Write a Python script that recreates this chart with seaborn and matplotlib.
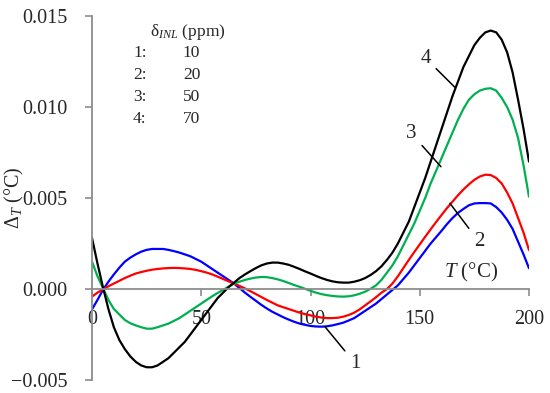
import pandas as pd
import matplotlib
matplotlib.use("Agg")
import matplotlib.pyplot as plt
import seaborn as sns
from matplotlib.ticker import FuncFormatter

# -------------------------
# Data (T in °C, Delta_T in °C)
# -------------------------

temps = [0, 2.5, 5, 7.5, 10, 12.5, 15, 17.5, 20, 22.5, 25, 27.5, 30, 32.5, 35, 37.5,
         40, 42.5, 45, 47.5, 50, 52.5, 55, 57.5, 60, 62.5, 65, 67.5, 70, 72.5, 75, 77.5,
         80, 82.5, 85, 87.5, 90, 92.5, 95, 97.5, 100, 102.5, 105, 107.5, 110, 112.5,
         115, 117.5, 120, 122.5, 125, 127.5, 130, 132.5, 135, 137.5, 140, 142.5, 145,
         147.5, 150, 152.5, 155, 157.5, 160, 162.5, 165, 167.5, 170, 172.5, 175, 177.5,
         180, 182.5, 185, 187.5, 190, 192.5, 195, 197.5, 200]

curve_1 = [-0.00112, -0.0006, -0.00005, 0.0004, 0.0008, 0.00117, 0.0015, 0.00172, 0.0019,
           0.00205, 0.00215, 0.0022, 0.0022, 0.0022, 0.00215, 0.00208, 0.0020, 0.0019,
           0.0018, 0.00165, 0.0015, 0.0013, 0.0011, 0.0009, 0.0007, 0.0005, 0.0003,
           0.00005, -0.0002, -0.00043, -0.00065, -0.00087, -0.00107, -0.00125, -0.0014,
           -0.00155, -0.00168, -0.0018, -0.0019, -0.00197, -0.00203, -0.00206, -0.00207,
           -0.00205, -0.0020, -0.00193, -0.00185, -0.00173, -0.0016, -0.0014, -0.0012,
           -0.001, -0.0008, -0.00055, -0.0003, -0.00005, 0.0002, 0.00055, 0.0009, 0.0013,
           0.0017, 0.0021, 0.0025, 0.00285, 0.0032, 0.00357, 0.0039, 0.00418, 0.0044,
           0.0046, 0.0047, 0.00472, 0.00472, 0.0047, 0.0045, 0.0042, 0.0038, 0.0033,
           0.0026, 0.0019, 0.00114]

curve_2 = [-0.00042, -0.0002, -0.00002, 0.00015, 0.0003, 0.00045, 0.0006, 0.00073, 0.00085,
           0.00093, 0.0010, 0.00106, 0.0011, 0.00113, 0.00115, 0.00116, 0.00115, 0.00113,
           0.0011, 0.00105, 0.00098, 0.0009, 0.0008, 0.00068, 0.00055, 0.00042, 0.0003,
           0.00017, 0.00003, -0.00012, -0.00028, -0.00044, -0.0006, -0.00075, -0.0009,
           -0.001, -0.0011, -0.0012, -0.0013, -0.00138, -0.00145, -0.00152, -0.00157,
           -0.0016, -0.0016, -0.00158, -0.00152, -0.00143, -0.0013, -0.00112, -0.0009,
           -0.00068, -0.00045, -0.0002, 0.0, 0.0003, 0.0007, 0.00115, 0.0016, 0.00203,
           0.00245, 0.00287, 0.00328, 0.00368, 0.00407, 0.00445, 0.0048, 0.00515, 0.00547,
           0.00575, 0.006, 0.00618, 0.00628, 0.00626, 0.0061, 0.0058, 0.0053, 0.0047,
           0.0039, 0.0031, 0.00214]

curve_3 = [0.0015, 0.0007, 0.00005, -0.0006, -0.0011, -0.0014, -0.0017, -0.00188, -0.0020,
           -0.0021, -0.00218, -0.00218, -0.0021, -0.0020, -0.0019, -0.00175, -0.0016,
           -0.0014, -0.0012, -0.001, -0.0008, -0.0006, -0.0004, -0.00022, -0.00005,
           0.00013, 0.0003, 0.0004, 0.0005, 0.00057, 0.00063, 0.00066, 0.00065, 0.0006,
           0.00053, 0.00044, 0.00033, 0.00022, 0.00012, 0.00001, -0.0001, -0.0002,
           -0.00028, -0.00034, -0.00038, -0.00041, -0.00042, -0.0004, -0.00035, -0.00026,
           -0.00015, 0.00001, 0.0002, 0.0005, 0.0009, 0.0013, 0.0018, 0.0024, 0.0030,
           0.0036, 0.0043, 0.0050, 0.0058, 0.0065, 0.0072, 0.0079, 0.0086, 0.0093, 0.0099,
           0.0104, 0.0107, 0.0109, 0.0110, 0.01103, 0.0109, 0.0105, 0.0100, 0.0093, 0.0083,
           0.0068, 0.00507]

curve_4 = [0.0028, 0.0014, 0.0001, -0.0011, -0.0021, -0.0028, -0.0033, -0.0037, -0.0040,
           -0.0042, -0.0043, -0.0043, -0.0042, -0.0040, -0.0038, -0.0035, -0.0032, -0.0029,
           -0.0025, -0.0021, -0.0017, -0.0013, -0.0009, -0.0005, -0.0002, 0.0001, 0.00035,
           0.0006, 0.0008, 0.00098, 0.00115, 0.0013, 0.0014, 0.00145, 0.00145, 0.0014,
           0.00133, 0.00122, 0.0011, 0.00097, 0.00085, 0.00072, 0.0006, 0.0005, 0.00042,
           0.00037, 0.00035, 0.00035, 0.0004, 0.00048, 0.0006, 0.00077, 0.00098, 0.00125,
           0.0016, 0.002, 0.0025, 0.0031, 0.0037, 0.0045, 0.0053, 0.0061, 0.0070, 0.0079,
           0.0088, 0.0097, 0.0106, 0.0114, 0.0122, 0.0128, 0.0134, 0.0138, 0.0141, 0.0142,
           0.0141, 0.0137, 0.0130, 0.0119, 0.0104, 0.0088, 0.0070]

curve_names = ["1", "2", "3", "4"]
curve_colors = ["#0000FF", "#FF0000", "#00B050", "#000000"]

legend_ids = ["1:", "2:", "3:", "4:"]
legend_ppm = [10, 20, 50, 70]

x_ticks = [0, 50, 100, 150, 200]
y_ticks = [-0.005, 0.000, 0.005, 0.010, 0.015]

# -------------------------
# Long-form table for seaborn
# -------------------------

df = pd.DataFrame({"T": temps, "1": curve_1, "2": curve_2, "3": curve_3, "4": curve_4})
df_long = df.melt(id_vars="T", var_name="curve", value_name="delta")

sns.set_theme(style="white")
plt.rcParams["font.family"] = ["Liberation Serif", "DejaVu Serif"]
plt.rcParams["mathtext.fontset"] = "custom"
plt.rcParams["mathtext.rm"] = "Liberation Serif"
plt.rcParams["mathtext.it"] = "Liberation Serif:italic"

fig = plt.figure(figsize=(5.5, 3.93), dpi=100)
ax = fig.add_axes([0.1673, 0.0331, 0.7945, 0.9262])

sns.lineplot(
    data=df_long, x="T", y="delta", hue="curve",
    hue_order=curve_names, palette=curve_colors,
    linewidth=1.6, legend=False, ax=ax,
)

ax.set_xlim(0, 200)
ax.set_ylim(-0.005, 0.015)
ax.set_xticks(x_ticks)
ax.set_yticks(y_ticks)

def fmt_y(v, pos):
    if abs(v) < 1e-9:
        v = 0.0
    return f"{v:.3f}".replace("-", "\u2212")

ax.yaxis.set_major_formatter(FuncFormatter(fmt_y))

spine_col = "#8c8c8c"
for side in ["top", "right"]:
    ax.spines[side].set_visible(False)
for side in ["left", "bottom"]:
    ax.spines[side].set_color(spine_col)
    ax.spines[side].set_linewidth(1.3)
ax.spines["bottom"].set_position(("data", 0))

ax.tick_params(axis="y", direction="out", length=5, width=1.2, color=spine_col,
               pad=13, labelsize=14.5, left=True)
ax.tick_params(axis="x", direction="out", length=5, width=1.2, color=spine_col,
               pad=10, labelsize=14.5, bottom=True)

ax.set_xlabel("")
ax.set_ylabel(r"Δ$_{T}$ (°C)", fontsize=14.5)
ax.yaxis.set_label_coords(-0.152, 0.5)

ax.text(173.5, 0.00093, r"$T$ (°C)", fontsize=15, ha="center", va="center")

# -------------------------
# Legend block (text only)
# -------------------------

ax.text(26.5, 0.01414, r"δ$_{INL}$ (ppm)", fontsize=12.5, ha="left", va="center")
row_y = 0.01295
for lid, ppm in zip(legend_ids, legend_ppm):
    ax.text(18.8, row_y, lid, fontsize=12.5, ha="left", va="center")
    ax.text(41.6, row_y, str(ppm), fontsize=12.5, ha="left", va="center")
    row_y -= 0.00121

# -------------------------
# Curve number labels with leader lines
# -------------------------

line_props = dict(arrowstyle="-", color="black", lw=1.1, shrinkA=2, shrinkB=0)
ax.annotate("4", xy=(166.1, 0.01108), xytext=(152.7, 0.01268), fontsize=15,
            ha="center", va="center", arrowprops=line_props)
ax.annotate("3", xy=(159.7, 0.00672), xytext=(146.3, 0.00852), fontsize=15,
            ha="center", va="center", arrowprops=line_props)
ax.annotate("2", xy=(163.8, 0.00471), xytext=(177.1, 0.0026), fontsize=15,
            ha="center", va="center", arrowprops=line_props)
ax.annotate("1", xy=(106.6, -0.00207), xytext=(120.4, -0.00408), fontsize=15,
            ha="center", va="center", arrowprops=line_props)

fig.savefig("out.png", dpi=100)
plt.close(fig)
